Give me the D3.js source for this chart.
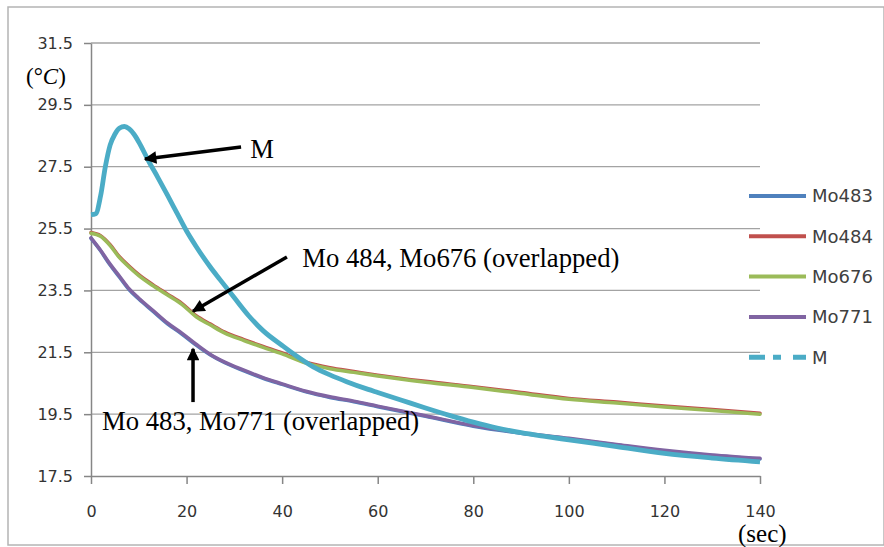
<!DOCTYPE html>
<html><head><meta charset="utf-8">
<script src="https://cdn.jsdelivr.net/npm/d3@7"></script>
<style>body{margin:0;background:#fff} svg{display:block}</style>
</head><body><svg id="c" width="884" height="547"></svg>
<script>
// ---------- data ----------
const seriesNames = ["Mo483", "Mo484", "Mo676", "Mo771", "M"];
const seriesColors = ["#4F81BD", "#C0504D", "#9BBB59", "#8064A2", "#4BACC6"];
const timeMo = [0,2,4,6,8,10,13,16,19,22,25,28,32,36,40,45,50,55,60,70,80,90,100,110,120,130,140];
const mo483 = [25.18,24.78,24.32,23.92,23.52,23.22,22.82,22.42,22.09,21.73,21.41,21.16,20.90,20.66,20.46,20.22,20.04,19.90,19.74,19.43,19.11,18.88,18.70,18.50,18.31,18.16,18.05];
const mo484 = [25.37,25.27,24.98,24.58,24.28,24.01,23.68,23.38,23.08,22.68,22.41,22.15,21.91,21.69,21.48,21.18,21.00,20.88,20.76,20.56,20.39,20.20,20.01,19.89,19.76,19.65,19.53];
const mo676 = [25.35,25.25,24.95,24.55,24.25,23.98,23.65,23.35,23.05,22.65,22.38,22.12,21.88,21.66,21.45,21.15,20.97,20.85,20.73,20.53,20.36,20.17,19.98,19.86,19.73,19.62,19.50];
const mo771 = [25.20,24.80,24.35,23.95,23.55,23.25,22.85,22.45,22.12,21.76,21.43,21.18,20.92,20.68,20.48,20.24,20.06,19.92,19.76,19.45,19.13,18.90,18.72,18.52,18.33,18.18,18.07];
const timeM = [0,1,2,3,4,5,6,7,8,9,10,12,14,16,18,20,22,25,27,30,33,36,40,43,46.5,50,53.5,58,60,65,70,75,80,85,90,95,100,110,120,130,140];
const mValues = [25.95,25.98,26.55,27.5,28.2,28.55,28.75,28.8,28.72,28.55,28.3,27.7,27.15,26.58,26.0,25.42,24.92,24.25,23.85,23.26,22.68,22.2,21.72,21.38,21.03,20.77,20.55,20.3,20.2,19.95,19.7,19.46,19.24,19.05,18.9,18.78,18.67,18.45,18.23,18.08,17.96];
const xTicks = [0,20,40,60,80,100,120,140];
const yTicks = [17.5,19.5,21.5,23.5,25.5,27.5,29.5,31.5];
const yTickLabels = ["17.5","19.5","21.5","23.5","25.5","27.5","29.5","31.5"];

// annotations in data coordinates
const annotations = [
  {text: "M", tx: 33.3, ty: 27.78, x1: 31.4, y1: 28.14, x2: 11.3, y2: 27.75},
  {text: "Mo 484, Mo676 (overlapped)", tx: 44.2, ty: 24.26, x1: 41.0, y1: 24.58, x2: 21.35, y2: 22.83},
  {text: "Mo 483, Mo771 (overlapped)", tx: 2.3, ty: 18.99, x1: 21.35, y1: 19.89, x2: 21.35, y2: 21.61}
];

// ---------- chart ----------
const svg = d3.select("#c");
const x = d3.scaleLinear().domain([0, 140]).range([91, 760]);
const y = d3.scaleLinear().domain([17.5, 31.5]).range([476, 43]);

// outer border
svg.append("rect").attr("x", 8).attr("y", 7).attr("width", 876).attr("height", 538)
  .attr("fill", "#fff").attr("stroke", "#b4b4b4").attr("stroke-width", 1.5);

// gridlines
svg.append("g").selectAll("line").data(yTicks.slice(1)).join("line")
  .attr("x1", x(0)).attr("x2", x(140))
  .attr("y1", d => y(d)).attr("y2", d => y(d))
  .attr("stroke", "#a3a3a3").attr("stroke-width", 1.3);

// axes
const yAxis = d3.axisLeft(y).tickValues(yTicks).tickFormat((d, i) => yTickLabels[i])
  .tickSize(7).tickPadding(11).tickSizeOuter(0);
const gy = svg.append("g").attr("transform", `translate(${x(0)},0)`).call(yAxis);
const xAxis = d3.axisBottom(x).tickValues(xTicks).tickFormat(d3.format("d"))
  .tickSize(8).tickPadding(22).tickSizeOuter(0);
const gx = svg.append("g").attr("transform", `translate(0,${y(17.5)})`).call(xAxis);
[gx, gy].forEach(g => {
  g.select(".domain").attr("stroke", "#868686").attr("stroke-width", 1.5);
  g.selectAll(".tick line").attr("stroke", "#868686").attr("stroke-width", 1.5);
  g.selectAll(".tick text").attr("fill", "#333").style("font-family", "DejaVu Sans")
    .style("font-size", "16px");
});

// series
const line = d3.line().curve(d3.curveMonotoneX).x(d => x(d[0])).y(d => y(d[1]));
const moSeries = [mo483, mo484, mo676, mo771];
moSeries.forEach((vals, i) => {
  svg.append("path").datum(timeMo.map((t, j) => [t, vals[j]]))
    .attr("d", line).attr("fill", "none")
    .attr("stroke", seriesColors[i]).attr("stroke-width", 3.5)
    .attr("stroke-linejoin", "round").attr("stroke-linecap", "round");
});
svg.append("path").datum(timeM.map((t, j) => [t, mValues[j]]))
  .attr("d", line).attr("fill", "none")
  .attr("stroke", seriesColors[4]).attr("stroke-width", 4.8)
  .attr("stroke-linejoin", "miter");

// legend
const lg = svg.append("g");
seriesNames.forEach((name, i) => {
  const ly = 196 + i * 40.3;
  const l = lg.append("line").attr("x1", 749).attr("x2", 806).attr("y1", ly).attr("y2", ly)
    .attr("stroke", seriesColors[i]).attr("stroke-width", i === 4 ? 5 : 4);
  if (i === 4) l.attr("stroke-dasharray", "16,8,8,12,14");
  lg.append("text").attr("x", 812).attr("y", ly).attr("dy", "0.36em")
    .attr("fill", "#404040").style("font-family", "DejaVu Sans").style("font-size", "18px")
    .text(name);
});

// annotations
const defs = svg.append("defs");
defs.append("marker").attr("id", "arr").attr("viewBox", "0 0 10 10")
  .attr("refX", 9).attr("refY", 5).attr("markerWidth", 4.4).attr("markerHeight", 3.6)
  .attr("orient", "auto").attr("markerUnits", "strokeWidth")
  .append("path").attr("d", "M0,0 L10,5 L0,10 Z").attr("fill", "#000");
annotations.forEach(a => {
  svg.append("line").attr("x1", x(a.x1)).attr("y1", y(a.y1))
    .attr("x2", x(a.x2)).attr("y2", y(a.y2))
    .attr("stroke", "#000").attr("stroke-width", 3.5).attr("marker-end", "url(#arr)");
  svg.append("text").attr("x", x(a.tx)).attr("y", y(a.ty))
    .style("font-family", "Liberation Serif, Times New Roman, serif").style("font-size", "26.7px")
    .attr("fill", "#000").text(a.text);
});

// axis titles
const unit = svg.append("text").attr("x", 26).attr("y", 84)
  .style("font-family", "Liberation Serif, Times New Roman, serif").style("font-size", "23px");
unit.append("tspan").text("(°");
unit.append("tspan").style("font-style", "italic").text("C");
unit.append("tspan").text(")");
svg.append("text").attr("x", 738).attr("y", 542)
  .style("font-family", "Liberation Serif, Times New Roman, serif").style("font-size", "25px")
  .text("(sec)");
</script></body></html>
